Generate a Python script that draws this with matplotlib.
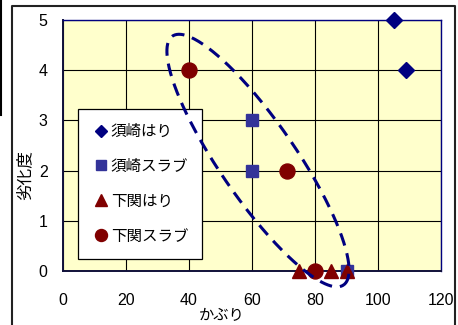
import matplotlib
matplotlib.use('Agg')
import matplotlib.pyplot as plt
import numpy as np
from matplotlib.lines import Line2D

plt.rcParams['font.family'] = ['Liberation Sans', 'Noto Sans CJK JP', 'DejaVu Sans']

# ---- data ----
series_names = ['須崎はり', '須崎スラブ', '下関はり', '下関スラブ']
susaki_hari_x = [105, 109]
susaki_hari_y = [5, 4]
susaki_slab_x = [60, 60, 90]
susaki_slab_y = [3, 2, 0]
shimo_hari_x = [75, 85, 90]
shimo_hari_y = [0, 0, 0]
shimo_slab_x = [40, 71, 80]
shimo_slab_y = [4, 2, 0]
x_ticks = [0, 20, 40, 60, 80, 100, 120]
y_ticks = [0, 1, 2, 3, 4, 5]
x_label = 'かぶり'
y_label = '劣化度'

W, H = 458, 325
fig = plt.figure(figsize=(W / 100, H / 100), dpi=100)
fig.patch.set_facecolor('white')

# axes placement (pixel box 63..441 x 20..271)
L, R, T, B = 63, 441, 20, 271
ax = fig.add_axes([L / W, (H - B) / H, (R - L) / W, (B - T) / H])
ax.set_facecolor('#FFFFCC')
ax.set_xlim(0, 120)
ax.set_ylim(0, 5)
ax.set_xticks(x_ticks)
ax.set_yticks(y_ticks)
ax.grid(True, color='black', linewidth=0.8)
ax.set_axisbelow(True)
ax.tick_params(length=0, labelsize=11.5, pad=0)
ax.tick_params(axis='x', pad=16)
ax.tick_params(axis='y', pad=11)
for s in ['top', 'right']:
    ax.spines[s].set_color('#000080')
    ax.spines[s].set_linewidth(1.0)
for s in ['left', 'bottom']:
    ax.spines[s].set_color('#10103a')
    ax.spines[s].set_linewidth(1.4)

ax.plot(susaki_hari_x, susaki_hari_y, linestyle='none', marker='D', ms=7.8,
        color='#000080', label=series_names[0], clip_on=False, zorder=3)
ax.plot(susaki_slab_x, susaki_slab_y, linestyle='none', marker='s', ms=8.6,
        color='#333399', label=series_names[1], clip_on=False, zorder=3)
ax.plot(shimo_hari_x, shimo_hari_y, linestyle='none', marker='^', ms=10,
        color='#800000', label=series_names[2], clip_on=False, zorder=3)
ax.plot(shimo_slab_x, shimo_slab_y, linestyle='none', marker='o', ms=10.8,
        color='#800000', label=series_names[3], clip_on=False, zorder=3)

leg = ax.legend(loc='upper left', bbox_to_anchor=((78 - L) / (R - L), (B - 109) / (B - T)),
                borderaxespad=0, frameon=True, fancybox=False, edgecolor='black',
                facecolor='white', framealpha=1, borderpad=0.9, markerscale=0.8,
                labelspacing=1.15, handlelength=1.2, handletextpad=0.0,
                prop={'family': ['Noto Sans CJK JP'], 'size': 11.2})
leg.get_frame().set_linewidth(0.9)
leg.set_zorder(4)

# dashed ellipse (defined in pixel-proportional units)
sx = (R - L) / 120.0
sy = (B - T) / 5.0
cx, cy = 61.9, 2.2
a, b, ang = 151.0, 38.0, np.deg2rad(-55.5)
t = np.linspace(0, 2 * np.pi, 400)
px = a * np.cos(t) * np.cos(ang) - b * np.sin(t) * np.sin(ang)
py = a * np.cos(t) * np.sin(ang) + b * np.sin(t) * np.cos(ang)
ax.plot(cx + px / sx, cy + py / sy, color='#000080', linewidth=2.2,
        dashes=(4.2, 2.6), clip_on=False, zorder=5)

# axis labels
fig.text(222 / W, 1 - 316 / H, x_label, ha='center', va='center', fontsize=11,
         family=['Noto Sans CJK JP'])
fig.text(24.5 / W, 1 - 175 / H, y_label, ha='center', va='center', fontsize=12,
         rotation=90, family=['Noto Sans CJK JP'])

# outer chart frame
def fl(xs, ys, **kw):
    fig.add_artist(Line2D([x / W for x in xs], [1 - y / H for y in ys],
                          transform=fig.transFigure, **kw))

fl([12, 12, 455, 455], [330, 6, 6, 330], color='#222222', lw=1.5)
fl([0.8, 0.8], [0, 115], color='black', lw=1.5)

fig.savefig('out.png', dpi=100)
